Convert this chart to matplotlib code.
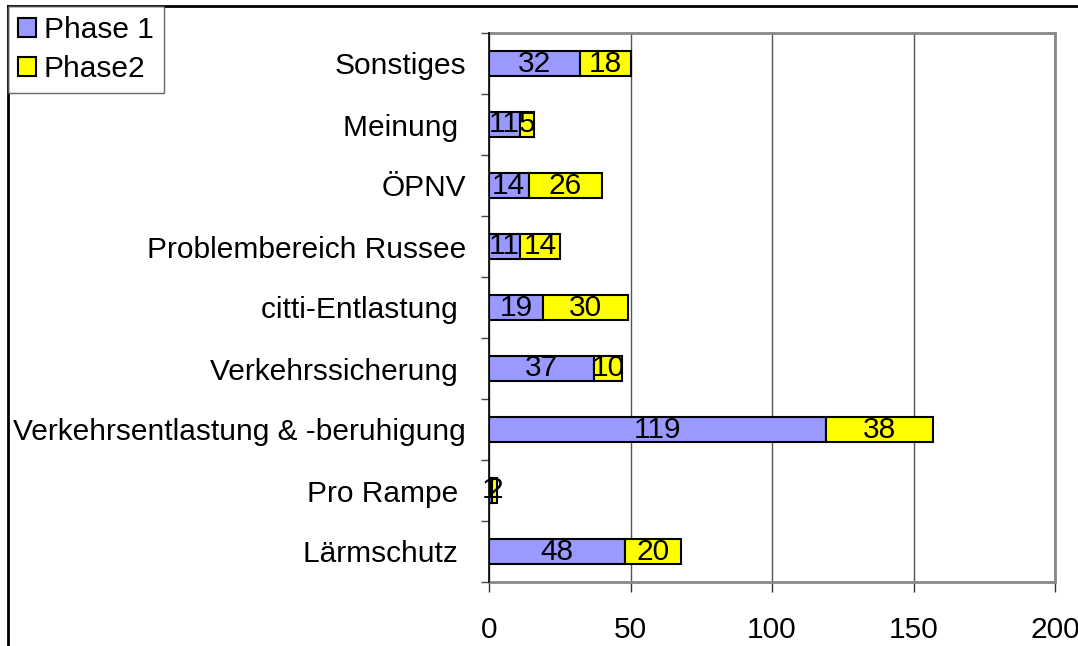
import matplotlib
matplotlib.use("Agg")
import matplotlib.pyplot as plt
from matplotlib.lines import Line2D
from matplotlib.patches import Patch
import numpy as np

categories = ["Lärmschutz ", "Pro Rampe ", "Verkehrsentlastung & -beruhigung",
              "Verkehrssicherung ", "citti-Entlastung ", "Problembereich Russee",
              "ÖPNV", "Meinung ", "Sonstiges"]
phase1 = [48, 1, 119, 37, 19, 11, 14, 11, 32]
phase2 = [20, 2, 38, 10, 30, 14, 26, 5, 18]
xticks = [0, 50, 100, 150, 200]

c1 = "#9999FF"
c2 = "#FFFF00"
fs = 21.5

plt.rcParams['font.family'] = ['Liberation Sans', 'DejaVu Sans']

fig = plt.figure(figsize=(10.78, 6.46), dpi=100)
ax = fig.add_axes([489/1078, 1-582/646, (1055-489)/1078, (582-33)/646])

y = np.arange(len(categories))
h = 0.41
ax.barh(y, phase1, height=h, color=c1, edgecolor="black", linewidth=1.5, zorder=3)
ax.barh(y, phase2, left=phase1, height=h, color=c2, edgecolor="black", linewidth=1.5, zorder=3)

for i in range(len(categories)):
    ax.text(phase1[i]/2, y[i], str(phase1[i]), ha="center", va="center", fontsize=fs, zorder=4)
    ax.text(phase1[i] + phase2[i]/2, y[i], str(phase2[i]), ha="center", va="center", fontsize=fs, zorder=4)

ax.set_xlim(0, 200)
ax.set_ylim(-0.5, len(categories) - 0.5)
ax.set_xticks(xticks)
ax.set_xticklabels([str(t) for t in xticks], fontsize=fs)
ax.tick_params(axis="x", length=7.5, width=1, color="#333333", pad=17, direction="out")
ax.set_yticks(y)
ax.set_yticklabels(categories, fontsize=fs)
ax.tick_params(axis="y", length=0, pad=16.5)
ax.set_yticks(np.arange(-0.5, len(categories), 1.0), minor=True)
ax.tick_params(axis="y", which="minor", length=6, width=1, color="#444444")

ax.grid(axis="x", color="#555555", linewidth=1, zorder=0)
for s in ["top", "right", "bottom"]:
    ax.spines[s].set_color("#888888")
    ax.spines[s].set_linewidth(2)
ax.spines["left"].set_color("black")
ax.spines["left"].set_linewidth(1.2)
ax.spines["left"].set_zorder(5)

# figure frame lines
fig.add_artist(Line2D([8/1078, 1], [1-6/646, 1-6/646], color="black", linewidth=2, transform=fig.transFigure))
fig.add_artist(Line2D([8/1078, 8/1078], [0, 1-6/646], color="black", linewidth=2, transform=fig.transFigure))

handles = [Patch(facecolor=c1, edgecolor="black", linewidth=1.5, label="Phase 1"),
           Patch(facecolor=c2, edgecolor="black", linewidth=1.5, label="Phase2")]
leg = fig.legend(handles=handles, loc="upper left", bbox_to_anchor=(8/1078, 1-6/646),
                 fontsize=fs, frameon=True, fancybox=False, borderaxespad=0,
                 handlelength=0.6, handleheight=0.6, handletextpad=0.25,
                 borderpad=0.35, labelspacing=0.35)
leg.get_frame().set_edgecolor("#444444")
leg.get_frame().set_linewidth(1)

fig.savefig("out.png", dpi=100)
